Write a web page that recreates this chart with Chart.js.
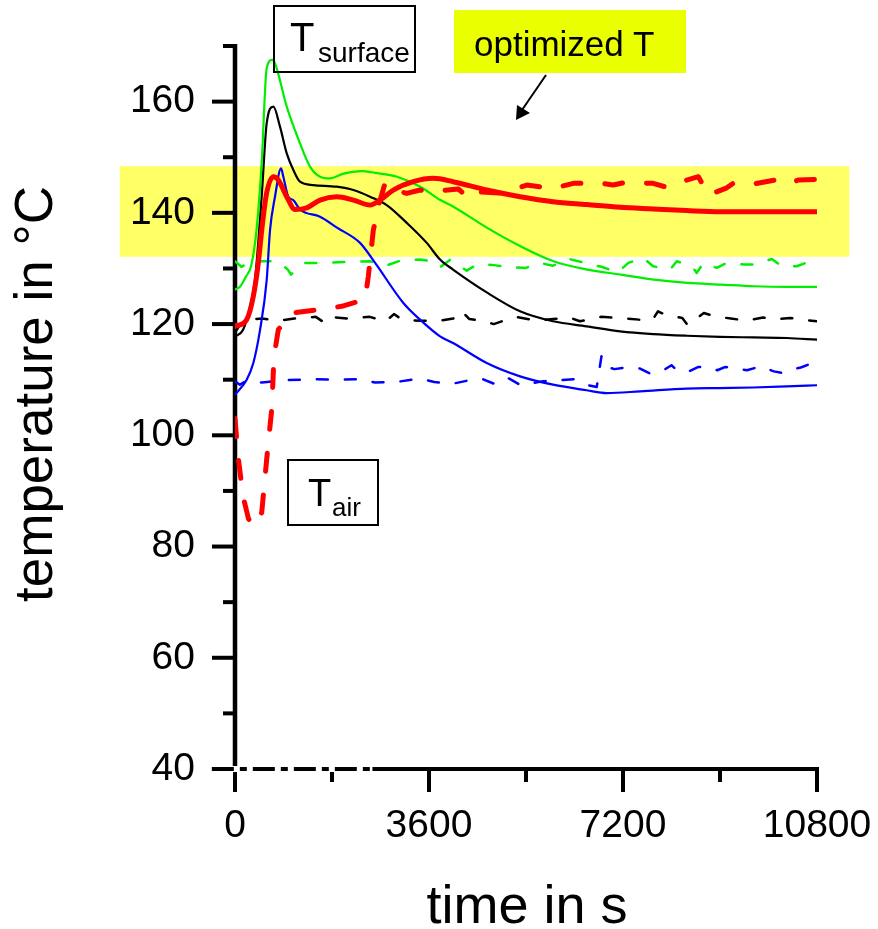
<!DOCTYPE html>
<html>
<head>
<meta charset="utf-8">
<title>Surface and air temperature</title>
<script src="https://cdn.jsdelivr.net/npm/chart.js@4.4.1/dist/chart.umd.min.js"></script>
<style>
  html, body { margin: 0; padding: 0; background: #fff; }
  #wrap { position: relative; width: 878px; height: 929px; overflow: hidden; }
  #chart { position: absolute; left: 0; top: 0; }
  .tag { position: absolute; box-sizing: border-box; color: #000;
         font-family: "Liberation Sans", Arial, Helvetica, sans-serif; }
  .tag.framed { border: 2px solid #000; }
  .tag.hilite { background: #eaff00; }
  .tag span { position: absolute; line-height: 1; white-space: nowrap; }
  #arrow { position: absolute; left: 0; top: 0; pointer-events: none; }
</style>
</head>
<body>
<div id="wrap">
  <canvas id="chart" width="878" height="929"></canvas>

  <div class="tag framed" style="left:273px;top:5px;width:143px;height:68px">
    <span style="left:15px;top:10px;font-size:40px">T</span>
    <span style="left:43px;top:32px;font-size:28px">surface</span>
  </div>

  <div class="tag hilite" style="left:454px;top:10px;width:232px;height:63px">
    <span style="left:20px;top:16px;font-size:35px">optimized T</span>
  </div>

  <div class="tag framed" style="left:287px;top:459px;width:92px;height:67px">
    <span style="left:19px;top:13px;font-size:38px">T</span>
    <span style="left:43px;top:33px;font-size:26px">air</span>
  </div>

  <svg id="arrow" width="878" height="929">
    <line x1="546" y1="75" x2="522" y2="110" stroke="#000" stroke-width="2"/>
    <polygon points="516,120 517,105 530,113" fill="#000"/>
  </svg>
</div>

<script>
const FONT_FAMILY = '"Liberation Sans", Arial, Helvetica, sans-serif';

// axis ticks that carry a label
const xTickLabels = [0, 3600, 7200, 10800];
const yTickLabels = [40, 60, 80, 100, 120, 140, 160];

// target window for the optimized surface temperature
const bandTime = [-2140, 11400];
const bandTemp = [132.1, 148.4];

// surface temperatures (solid), time in s / temperature in °C
const tGreenSurface = [0, 100, 200, 300, 400, 495, 588, 690, 742, 960, 1206, 1392, 1578, 1766, 2000, 2350, 2600, 3006, 3439, 3811, 4053, 4679, 5298, 5912, 6538, 7157, 7771, 8397, 9016, 9630, 10256, 10800];
const greenSurface = [126.2, 126.8, 128.5, 130.5, 137, 149, 166, 167.5, 166.9, 159.1, 152.5, 148.3, 146.5, 146.2, 147, 147.5, 147.2, 146.5, 144.7, 142.3, 141.1, 137.3, 134, 131.3, 129.8, 128.9, 128.0, 127.4, 127.1, 126.8, 126.7, 126.7];

const tBlackSurface = [0, 150, 250, 371, 495, 588, 712, 835, 960, 1083, 1206, 1453, 1887, 2196, 2506, 2815, 3187, 3558, 3805, 4046, 4671, 5290, 5902, 6527, 7146, 7758, 8383, 9002, 9614, 10240, 10800];
const blackSurface = [117.7, 119, 122, 128, 142.9, 156.1, 159.1, 155.5, 150.7, 147.7, 145.6, 145, 144.7, 144.1, 142.9, 141.4, 138.2, 134.6, 131.6, 129.8, 125.7, 122.3, 120.5, 119.6, 118.7, 118.2, 117.9, 117.7, 117.6, 117.5, 117.2];

const tBlueSurface = [0, 217, 340, 464, 588, 650, 742, 854, 897, 989, 1082, 1206, 1578, 1900, 2320, 2600, 3124, 3434, 3805, 4046, 4671, 5290, 5902, 6527, 6899, 7517, 8383, 9002, 9614, 10240, 10800];
const blueSurface = [107.3, 110.0, 113.0, 118.9, 127.9, 136.9, 142.9, 148.0, 146.5, 142.9, 142.3, 140.6, 139.3, 137.3, 134.6, 131.0, 123.8, 120.8, 117.8, 116.6, 113.0, 110.6, 109.1, 108.1, 107.6, 107.9, 108.4, 108.5, 108.6, 108.8, 109.0];

const tRedSurface = [0, 217, 340, 433, 496, 588, 712, 804, 960, 1114, 1331, 1578, 1888, 2196, 2506, 2691, 2938, 3309, 3680, 4046, 4671, 5290, 5902, 6527, 7146, 7758, 8383, 9002, 9614, 10240, 10800];
const redSurface = [119.6, 120.8, 125.0, 131.0, 136.9, 143.6, 146.5, 145.9, 142.9, 140.6, 140.9, 142.3, 142.9, 142.3, 141.4, 142.3, 144.1, 145.6, 146.2, 145.6, 144.1, 142.9, 142.0, 141.5, 141.0, 140.7, 140.4, 140.2, 140.2, 140.2, 140.2];

// air temperatures (dashed)
const tRedAir = [0, 60, 150, 250, 340, 420, 496, 588, 638, 681, 724, 804, 1051, 1578, 1980, 2413, 2474, 2567, 2678, 2784, 2900, 3187, 3434, 3619, 4144, 4330, 4454, 5011, 5228, 5414, 5908, 6279, 6830, 7016, 7201, 7758, 8012, 8166, 8599, 8784, 9126, 9243, 9521, 10022, 10171, 10301, 10450, 10800];
const redAir = [103, 96, 89, 85, 83.7, 84.2, 86.1, 95.7, 100.5, 104.6, 114.2, 119, 122, 122.6, 123.2, 124.4, 128.6, 136.9, 141.8, 145.3, 144.3, 143.5, 144.1, 143.8, 144.3, 142.7, 143.8, 143.5, 144.4, 145.0, 144.4, 145.3, 145.3, 145.0, 145.4, 145.3, 144.6, 145.3, 146.5, 143.2, 144.5, 145.3, 145.0, 145.9, 145.9, 145.3, 145.9, 146];

const tGreenAir = [0, 120, 300, 800, 980, 1040, 1130, 1300, 1700, 2100, 2500, 2800, 3100, 3434, 3700, 3800, 4000, 4300, 4500, 4800, 5100, 5400, 5650, 5900, 6200, 6500, 6800, 7100, 7300, 7573, 7758, 8074, 8198, 8476, 8569, 8692, 8940, 9126, 9434, 9651, 9961, 10147, 10425, 10672, 10800];
const greenAir = [131.3, 130.3, 131.3, 131.3, 129.8, 128.9, 129.8, 131.0, 131.0, 131.2, 131.3, 130.5, 131.5, 131.6, 131.2, 130.2, 131.6, 129.6, 130.8, 130.6, 130.2, 130.1, 131.0, 130.5, 131.7, 131.0, 130.3, 129.3, 131.0, 131.9, 130.4, 129.8, 131.3, 130.4, 129.2, 131.0, 130.1, 131.0, 130.7, 130.7, 131.7, 130.4, 130.4, 131.3, 131.4];

const tBlackAir = [0, 150, 500, 800, 1100, 1500, 1650, 1750, 2100, 2500, 2800, 2950, 3100, 3434, 3800, 4050, 4200, 4350, 4600, 4800, 5200, 5600, 5900, 6200, 6400, 6800, 7146, 7500, 7750, 7850, 8000, 8300, 8400, 8700, 8900, 9200, 9500, 9800, 10000, 10300, 10500, 10800];
const blackAir = [118.5, 120.7, 121.0, 120.6, 121.0, 121.3, 120.3, 121.3, 121.0, 121.3, 120.5, 121.8, 120.8, 120.6, 120.6, 121.0, 122.4, 120.9, 120.6, 120.0, 121.3, 120.6, 120.9, 121.2, 120.5, 121.3, 121.1, 120.8, 120.8, 122.3, 121.6, 121.1, 119.8, 122.0, 121.4, 121.0, 120.6, 121.2, 120.8, 121.1, 120.8, 120.5];

const tBlueAir = [0, 90, 190, 500, 900, 1500, 1900, 2300, 2600, 3000, 3434, 3700, 4000, 4300, 4600, 4800, 5050, 5300, 5700, 6000, 6300, 6560, 6713, 6800, 6870, 7040, 7250, 7517, 7700, 7950, 8100, 8200, 8400, 8600, 8800, 8950, 9100, 9300, 9500, 9750, 10000, 10150, 10300, 10500, 10800];
const blueAir = [109.7, 109.1, 109.7, 109.5, 109.9, 110.1, 110.0, 110.1, 109.5, 109.6, 110.2, 109.6, 109.2, 109.8, 110.1, 109.3, 110.4, 109.0, 109.7, 109.9, 110.1, 109.0, 108.7, 114.2, 112.4, 111.9, 112.2, 112.0, 111.1, 111.7, 112.6, 111.7, 111.4, 112.3, 112.2, 111.7, 112.3, 112.0, 111.7, 112.4, 111.5, 111.2, 111.8, 112.2, 113.3];

// broken stretch of the time axis at 40 °C
const tAxisGap = [-560, 2550];
const tAxisDash = [-430, 2550];
const axisTemp = [40, 40];

const pts = (ts, vs) => ts.map((t, i) => ({ x: t, y: vs[i] }));

function solid(ts, vs, color, width) {
  return {
    data: pts(ts, vs), borderColor: color, borderWidth: width,
    pointRadius: 0, fill: false, cubicInterpolationMode: 'monotone',
    borderJoinStyle: 'round', borderCapStyle: 'round'
  };
}

function dashed(ts, vs, color, width, dash) {
  return {
    data: pts(ts, vs), borderColor: color, borderWidth: width, borderDash: dash,
    pointRadius: 0, fill: false, tension: 0,
    borderJoinStyle: 'round', borderCapStyle: 'round'
  };
}

function strokeLine(ctx, x0, y0, x1, y1) {
  ctx.beginPath();
  ctx.moveTo(x0, y0);
  ctx.lineTo(x1, y1);
  ctx.stroke();
}

// keep the plot box fixed: no extra room for half labels at the ends
function pinScale(s, size) {
  if (s.isHorizontal()) s.height = size; else s.width = size;
  s.paddingTop = 0;
  s.paddingBottom = 0;
  s.paddingLeft = 0;
  s.paddingRight = 0;
}

// yellow band behind everything, hand-drawn axes and tick marks, axis titles
const frame = {
  id: 'frame',
  beforeDraw(chart) {
    const { ctx, scales: { x, y } } = chart;
    const x0 = x.getPixelForValue(bandTime[0]);
    const x1 = x.getPixelForValue(bandTime[1]);
    const y0 = y.getPixelForValue(bandTemp[1]);
    const y1 = y.getPixelForValue(bandTemp[0]);
    ctx.save();
    ctx.fillStyle = '#ffff66';
    ctx.fillRect(x0, y0, x1 - x0, y1 - y0);
    ctx.restore();
  },
  beforeDatasetsDraw(chart) {
    const { ctx, chartArea: a, scales: { x, y } } = chart;
    ctx.save();
    ctx.strokeStyle = '#000';
    ctx.lineCap = 'butt';
    ctx.lineWidth = 4.5;
    strokeLine(ctx, a.left, a.bottom + 2, a.left, a.top - 2);
    ctx.lineWidth = 4;
    strokeLine(ctx, a.left - 2, a.bottom, a.right + 2, a.bottom);
    y.ticks.forEach(t => {
      const py = y.getPixelForValue(t.value);
      const len = yTickLabels.includes(t.value) ? 23 : 12;
      strokeLine(ctx, a.left - len, py, a.left, py);
    });
    x.ticks.forEach(t => {
      const px = x.getPixelForValue(t.value);
      const len = xTickLabels.includes(t.value) ? 23 : 13;
      strokeLine(ctx, px, a.bottom, px, a.bottom + len);
    });
    ctx.restore();
  },
  afterDraw(chart) {
    const { ctx, chartArea: a } = chart;
    ctx.save();
    ctx.fillStyle = '#000';
    ctx.textAlign = 'center';
    ctx.textBaseline = 'alphabetic';
    ctx.font = '54px ' + FONT_FAMILY;
    ctx.fillText('time in s', (a.left + a.right) / 2 + 1, 923);
    ctx.translate(52, 394);
    ctx.rotate(-Math.PI / 2);
    ctx.font = '53px ' + FONT_FAMILY;
    ctx.fillText('temperature in °C', 0, 0);
    ctx.restore();
  }
};

const datasets = [
  Object.assign(dashed(tAxisDash, axisTemp, '#000', 4, [22, 6, 7, 6]), { clip: false, order: -2, borderCapStyle: 'butt' }),
  Object.assign(solid(tAxisGap, axisTemp, '#fff', 6), { clip: false, order: -1, borderCapStyle: 'butt' }),
  solid(tRedSurface, redSurface, '#ff0000', 5),
  dashed(tRedAir, redAir, '#ff0000', 5, [18, 24]),
  solid(tGreenSurface, greenSurface, '#00ee00', 2.2),
  solid(tBlackSurface, blackSurface, '#000000', 2.2),
  solid(tBlueSurface, blueSurface, '#0000ff', 2.2),
  dashed(tGreenAir, greenAir, '#00ee00', 2.5, [11, 17]),
  dashed(tBlackAir, blackAir, '#000000', 2.5, [11, 17]),
  dashed(tBlueAir, blueAir, '#0000ff', 2.5, [11, 17])
];

new Chart(document.getElementById('chart'), {
  type: 'line',
  data: { datasets },
  plugins: [frame],
  options: {
    responsive: false,
    devicePixelRatio: 1,
    animation: false,
    layout: { padding: { left: 0, top: 46, right: 61, bottom: 0 } },
    plugins: { legend: { display: false }, tooltip: { enabled: false } },
    scales: {
      x: {
        type: 'linear', position: 'bottom', min: 0, max: 10800,
        grid: { display: false, drawTicks: false },
        border: { display: false },
        afterFit: s => pinScale(s, 160),
        ticks: {
          stepSize: 1800, autoSkip: false, maxRotation: 0, minRotation: 0,
          padding: 34, color: '#000',
          font: { family: FONT_FAMILY, size: 39 },
          callback: v => (xTickLabels.includes(v) ? String(v) : '')
        }
      },
      y: {
        type: 'linear', position: 'left', min: 40, max: 170,
        grid: { display: false, drawTicks: false },
        border: { display: false },
        afterFit: s => pinScale(s, 235),
        ticks: {
          stepSize: 10, autoSkip: false, padding: 40, color: '#000',
          font: { family: FONT_FAMILY, size: 39 },
          callback: v => (yTickLabels.includes(v) ? String(v) : '')
        }
      }
    }
  }
});
</script>
</body>
</html>
